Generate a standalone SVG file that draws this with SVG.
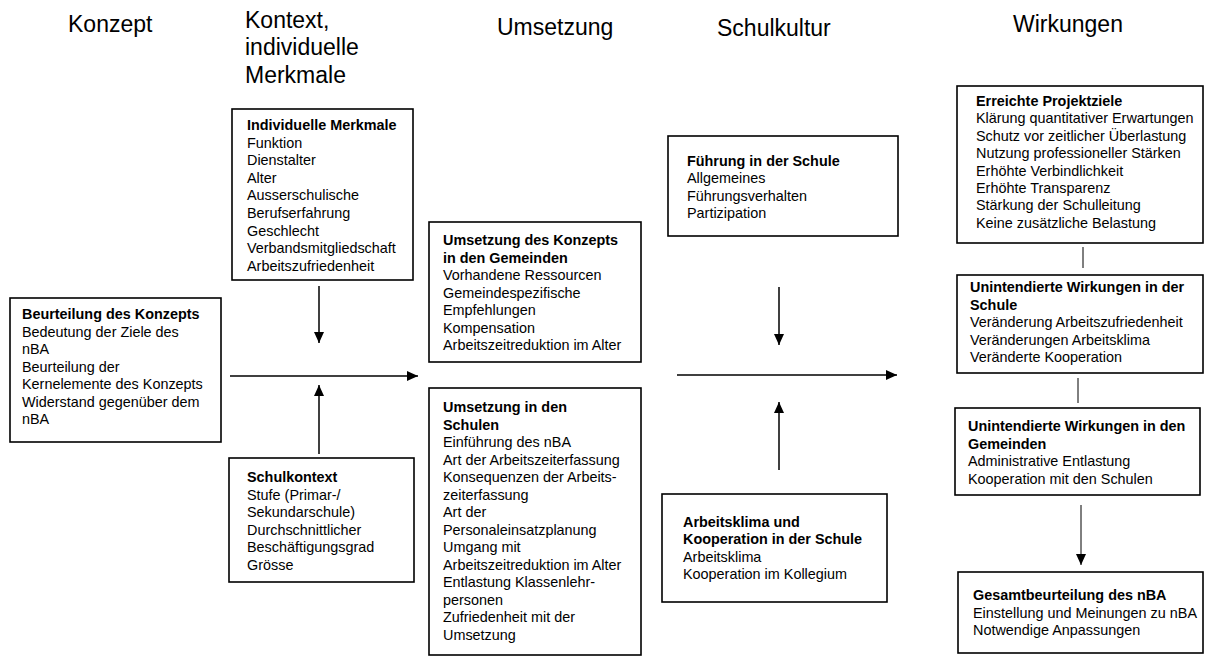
<svg xmlns="http://www.w3.org/2000/svg" width="1205" height="656" viewBox="0 0 1205 656">
<defs>
<style>
.hd{font-family:"Liberation Sans",Arial,sans-serif;font-size:23px;fill:#000}
.tx{font-family:"Liberation Sans",Arial,sans-serif;font-size:14.4px;fill:#000}
.b{font-weight:bold}
.box{fill:#fff;stroke:#000;stroke-width:1.6}
.ln{stroke:#000;stroke-width:1.5;fill:none}
.thin{stroke:#000;stroke-width:1;fill:none}
</style>
<marker id="ah" markerUnits="userSpaceOnUse" markerWidth="11" markerHeight="10" refX="11" refY="5" orient="auto">
<path d="M0,0 L11,5 L0,10 Z" fill="#000"/>
</marker>
</defs>
<rect width="1205" height="656" fill="#fff"/>
<g id="headers">
<text class="hd" x="68" y="32">Konzept</text>
<text class="hd" x="245" y="28">Kontext,</text>
<text class="hd" x="245" y="55">individuelle</text>
<text class="hd" x="245" y="83">Merkmale</text>
<text class="hd" x="497" y="35">Umsetzung</text>
<text class="hd" x="717" y="36">Schulkultur</text>
<text class="hd" x="1013" y="32">Wirkungen</text>
</g>
<g id="connectors">
<line class="ln" x1="230" y1="376" x2="418" y2="376" marker-end="url(#ah)"/>
<line class="ln" x1="319" y1="286" x2="319" y2="343" marker-end="url(#ah)"/>
<line class="ln" x1="319" y1="454" x2="319" y2="385" marker-end="url(#ah)"/>
<line class="ln" x1="677" y1="375" x2="897" y2="375" marker-end="url(#ah)"/>
<line class="ln" x1="779" y1="287" x2="779" y2="345" marker-end="url(#ah)"/>
<line class="ln" x1="779" y1="470" x2="779" y2="402" marker-end="url(#ah)"/>
<line class="thin" x1="1083" y1="247" x2="1083" y2="268"/>
<line class="thin" x1="1078" y1="378" x2="1078" y2="403"/>
<line class="thin" x1="1081" y1="505" x2="1081" y2="565" marker-end="url(#ah)"/>
</g>
<g id="individuelle-merkmale">
<rect class="box" x="232" y="109" width="181" height="171"/>
<text class="tx" x="247" y="130"><tspan class="b">Individuelle Merkmale</tspan><tspan x="247" dy="17.6">Funktion</tspan><tspan x="247" dy="17.6">Dienstalter</tspan><tspan x="247" dy="17.6">Alter</tspan><tspan x="247" dy="17.6">Ausserschulische</tspan><tspan x="247" dy="17.6">Berufserfahrung</tspan><tspan x="247" dy="17.6">Geschlecht</tspan><tspan x="247" dy="17.6">Verbandsmitgliedschaft</tspan><tspan x="247" dy="17.6">Arbeitszufriedenheit</tspan></text>
</g>
<g id="beurteilung-konzept">
<rect class="box" x="10" y="298" width="211" height="144"/>
<text class="tx" x="22" y="319"><tspan class="b">Beurteilung des Konzepts</tspan><tspan x="22" dy="17.5">Bedeutung der Ziele des</tspan><tspan x="22" dy="17.5">nBA</tspan><tspan x="22" dy="17.5">Beurteilung der</tspan><tspan x="22" dy="17.5">Kernelemente des Konzepts</tspan><tspan x="22" dy="17.5">Widerstand gegenüber dem</tspan><tspan x="22" dy="17.5">nBA</tspan></text>
</g>
<g id="schulkontext">
<rect class="box" x="229" y="458" width="185" height="124"/>
<text class="tx" x="247" y="482"><tspan class="b">Schulkontext</tspan><tspan x="247" dy="17.5">Stufe (Primar-/</tspan><tspan x="247" dy="17.5">Sekundarschule)</tspan><tspan x="247" dy="17.5">Durchschnittlicher</tspan><tspan x="247" dy="17.5">Beschäftigungsgrad</tspan><tspan x="247" dy="17.5">Grösse</tspan></text>
</g>
<g id="umsetzung-gemeinden">
<rect class="box" x="429" y="222" width="212" height="140"/>
<text class="tx" x="443" y="245"><tspan class="b">Umsetzung des Konzepts</tspan><tspan class="b" x="443" dy="17.5">in den Gemeinden</tspan><tspan x="443" dy="17.5">Vorhandene Ressourcen</tspan><tspan x="443" dy="17.5">Gemeindespezifische</tspan><tspan x="443" dy="17.5">Empfehlungen</tspan><tspan x="443" dy="17.5">Kompensation</tspan><tspan x="443" dy="17.5">Arbeitszeitreduktion im Alter</tspan></text>
</g>
<g id="umsetzung-schulen">
<rect class="box" x="429" y="388" width="212" height="267"/>
<text class="tx" x="443" y="412"><tspan class="b">Umsetzung in den</tspan><tspan class="b" x="443" dy="17.5">Schulen</tspan><tspan x="443" dy="17.5">Einführung des nBA</tspan><tspan x="443" dy="17.5">Art der Arbeitszeiterfassung</tspan><tspan x="443" dy="17.5">Konsequenzen der Arbeits-</tspan><tspan x="443" dy="17.5">zeiterfassung</tspan><tspan x="443" dy="17.5">Art der</tspan><tspan x="443" dy="17.5">Personaleinsatzplanung</tspan><tspan x="443" dy="17.5">Umgang mit</tspan><tspan x="443" dy="17.5">Arbeitszeitreduktion im Alter</tspan><tspan x="443" dy="17.5">Entlastung Klassenlehr-</tspan><tspan x="443" dy="17.5">personen</tspan><tspan x="443" dy="17.5">Zufriedenheit mit der</tspan><tspan x="443" dy="17.5">Umsetzung</tspan></text>
</g>
<g id="fuehrung">
<rect class="box" x="668" y="136" width="230" height="100"/>
<text class="tx" x="687" y="166"><tspan class="b">Führung in der Schule</tspan><tspan x="687" dy="17.4">Allgemeines</tspan><tspan x="687" dy="17.4">Führungsverhalten</tspan><tspan x="687" dy="17.4">Partizipation</tspan></text>
</g>
<g id="arbeitsklima">
<rect class="box" x="662" y="494" width="225" height="108"/>
<text class="tx" x="683" y="527"><tspan class="b">Arbeitsklima und</tspan><tspan class="b" x="683" dy="17.4">Kooperation in der Schule</tspan><tspan x="683" dy="17.4">Arbeitsklima</tspan><tspan x="683" dy="17.4">Kooperation im Kollegium</tspan></text>
</g>
<g id="projektziele">
<rect class="box" x="957" y="86" width="246" height="157"/>
<text class="tx" x="976" y="106"><tspan class="b">Erreichte Projektziele</tspan><tspan x="976" dy="17.4">Klärung quantitativer Erwartungen</tspan><tspan x="976" dy="17.4">Schutz vor zeitlicher Überlastung</tspan><tspan x="976" dy="17.4">Nutzung professioneller Stärken</tspan><tspan x="976" dy="17.4">Erhöhte Verbindlichkeit</tspan><tspan x="976" dy="17.4">Erhöhte Transparenz</tspan><tspan x="976" dy="17.4">Stärkung der Schulleitung</tspan><tspan x="976" dy="17.4">Keine zusätzliche Belastung</tspan></text>
</g>
<g id="unintendiert-schule">
<rect class="box" x="957" y="275" width="246" height="98"/>
<text class="tx" x="970" y="292"><tspan class="b">Unintendierte Wirkungen in der</tspan><tspan class="b" x="970" dy="17.5">Schule</tspan><tspan x="970" dy="17.5">Veränderung Arbeitszufriedenheit</tspan><tspan x="970" dy="17.5">Veränderungen Arbeitsklima</tspan><tspan x="970" dy="17.5">Veränderte Kooperation</tspan></text>
</g>
<g id="unintendiert-gemeinden">
<rect class="box" x="955" y="408" width="245" height="87"/>
<text class="tx" x="968" y="431"><tspan class="b">Unintendierte Wirkungen in den</tspan><tspan class="b" x="968" dy="17.5">Gemeinden</tspan><tspan x="968" dy="17.5">Administrative Entlastung</tspan><tspan x="968" dy="17.5">Kooperation mit den Schulen</tspan></text>
</g>
<g id="gesamtbeurteilung">
<rect class="box" x="958" y="572" width="245" height="81"/>
<text class="tx" x="973" y="600"><tspan class="b">Gesamtbeurteilung des nBA</tspan><tspan x="973" dy="17.5">Einstellung und Meinungen zu nBA</tspan><tspan x="973" dy="17.5">Notwendige Anpassungen</tspan></text>
</g>
</svg>
